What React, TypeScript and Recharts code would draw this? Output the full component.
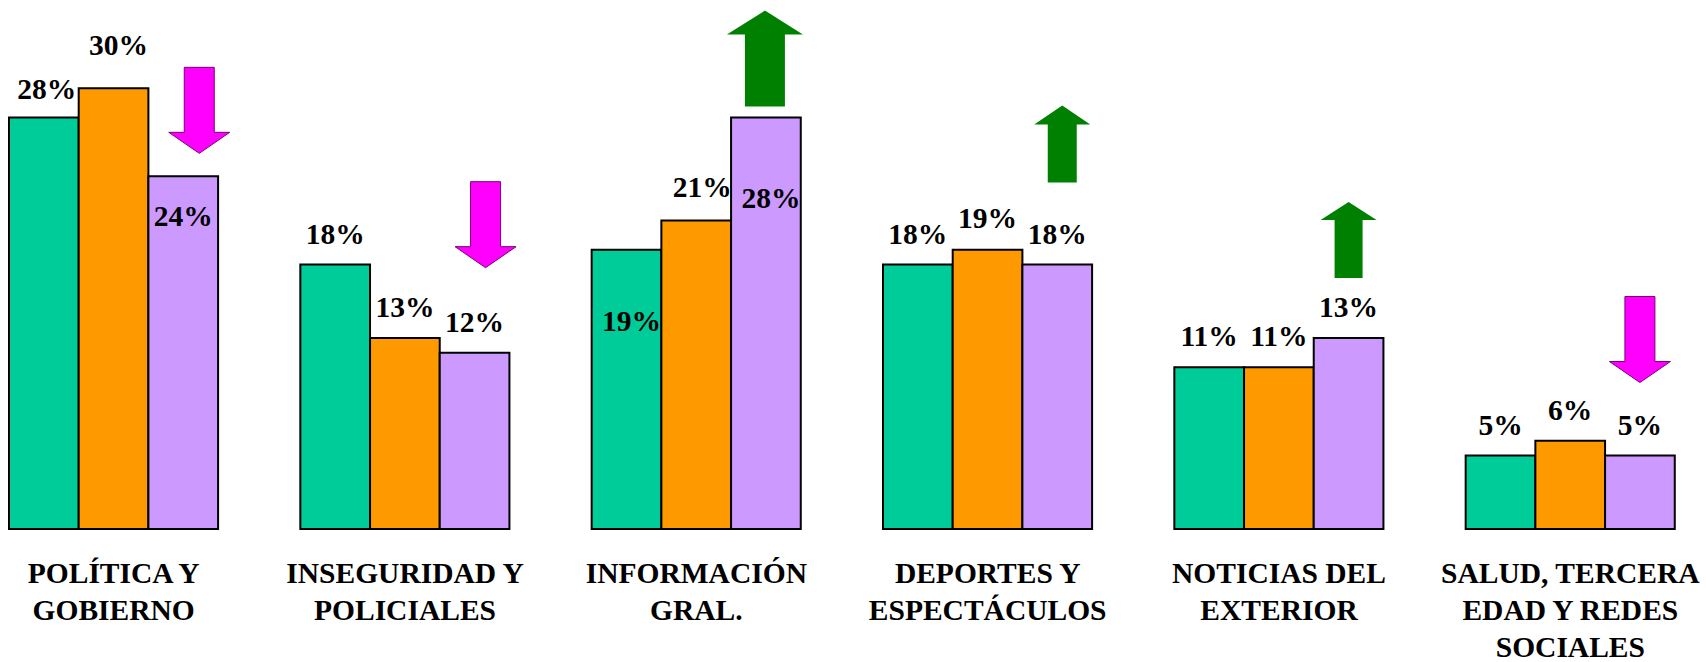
import { BarChart, Bar, XAxis, YAxis, LabelList } from 'recharts';

// categorías (una línea por elemento del array interno)
const categories = [
  ['POLÍTICA Y', 'GOBIERNO'],
  ['INSEGURIDAD Y', 'POLICIALES'],
  ['INFORMACIÓN', 'GRAL.'],
  ['DEPORTES Y', 'ESPECTÁCULOS'],
  ['NOTICIAS DEL', 'EXTERIOR'],
  ['SALUD, TERCERA', 'EDAD Y REDES', 'SOCIALES'],
];

const periodo1 = [28, 18, 19, 18, 11, 5];
const periodo2 = [30, 13, 21, 19, 11, 6];
const periodo3 = [24, 12, 28, 18, 13, 5];
const tendencia = ['down', 'down', 'up', 'up', 'up', 'down'];

const data = categories.map((lines, i) => ({
  categoria: lines.join('\n'),
  p1: periodo1[i],
  p2: periodo2[i],
  p3: periodo3[i],
  tendencia: tendencia[i],
}));

const FONT = '"Liberation Serif", "Times New Roman", serif';
const FONT_SIZE = 29.5;

// desplazamientos de las etiquetas de valor [dx, dy desde el tope de la barra]
const LABEL_SHIFT: Record<string, Record<number, [number, number]>> = {
  p1: { 0: [3, -19], 2: [5, 81] },
  p2: { 0: [5, -33], 2: [6, -23], 3: [0, -22] },
  p3: { 0: [0, 50], 2: [5, 90] },
};

// flechas sobre la tercera barra
const ARROW_STYLE = [
  { dx: 16, gap: 23, len: 86, head: 61, shaft: 30, headH: 21 },
  { dx: 11, gap: 85, len: 86, head: 61, shaft: 30, headH: 21 },
  { dx: -1, gap: 11, len: 96, head: 76, shaft: 40, headH: 24 },
  { dx: 5, gap: 82, len: 77, head: 56, shaft: 29, headH: 19 },
  { dx: 0, gap: 60, len: 76, head: 56, shaft: 28, headH: 18 },
  { dx: 0, gap: 73, len: 86, head: 61, shaft: 30, headH: 21 },
];

function valueLabel(key: string) {
  return (props: any) => {
    const { x, y, width, value, index } = props;
    const [dx, dy] = LABEL_SHIFT[key][index] ?? [0, -21];
    return (
      <text
        x={x + width / 2 + dx}
        y={y + dy}
        textAnchor="middle"
        fontFamily={FONT}
        fontWeight="bold"
        fontSize={FONT_SIZE}
        fill="#000"
      >
        {`${value}%`}
      </text>
    );
  };
}

function TrendArrow(props: any) {
  const { x, y, width, index } = props;
  const s = ARROW_STYLE[index];
  const cx = x + width / 2 + s.dx;
  const hs = s.shaft / 2;
  const hh = s.head / 2;
  if (tendencia[index] === 'down') {
    const tip = y - s.gap;
    const top = tip - s.len;
    const base = tip - s.headH;
    const pts = [
      [cx - hs, top], [cx + hs, top], [cx + hs, base], [cx + hh, base],
      [cx, tip], [cx - hh, base], [cx - hs, base],
    ];
    return <polygon points={pts.map((p) => p.join(',')).join(' ')} fill="#FF00FF" stroke="#7a007a" strokeWidth={1} />;
  }
  const bottom = y - s.gap;
  const tip = bottom - s.len;
  const base = tip + s.headH;
  const pts = [
    [cx, tip], [cx + hh, base], [cx + hs, base], [cx + hs, bottom],
    [cx - hs, bottom], [cx - hs, base], [cx - hh, base],
  ];
  return <polygon points={pts.map((p) => p.join(',')).join(' ')} fill="#008000" />;
}

function CategoryTick(props: any) {
  const { x, y, payload } = props;
  const lines = String(payload.value).split('\n');
  return (
    <text x={x} y={y} textAnchor="middle" fontFamily={FONT} fontWeight="bold" fontSize={FONT_SIZE} fill="#000">
      {lines.map((line, i) => (
        <tspan key={line} x={x} dy={i === 0 ? 54 : 37}>
          {line}
        </tspan>
      ))}
    </text>
  );
}

export default function App() {
  return (
    <div
      style={{
        position: 'fixed',
        left: 0,
        top: 0,
        width: 1706,
        height: 662,
        overflow: 'hidden',
        background: '#fff',
      }}
    >
      <div style={{ position: 'absolute', left: -32, top: 0 }}>
        <BarChart
          width={1748}
          height={662}
          data={data}
          margin={{ top: 0, right: 0, bottom: 0, left: 0 }}
          barSize={69.7}
          barGap={0}
        >
          <XAxis
            dataKey="categoria"
            height={133}
            axisLine={false}
            tickLine={false}
            tickSize={0}
            tickMargin={0}
            interval={0}
            tick={<CategoryTick />}
          />
          <YAxis hide domain={[0, 36]} />
          <Bar dataKey="p1" fill="#00CC99" stroke="#000" strokeWidth={2} isAnimationActive={false}>
            <LabelList dataKey="p1" content={valueLabel('p1')} />
          </Bar>
          <Bar dataKey="p2" fill="#FF9900" stroke="#000" strokeWidth={2} isAnimationActive={false}>
            <LabelList dataKey="p2" content={valueLabel('p2')} />
          </Bar>
          <Bar dataKey="p3" fill="#CC99FF" stroke="#000" strokeWidth={2} isAnimationActive={false}>
            <LabelList dataKey="p3" content={valueLabel('p3')} />
            <LabelList dataKey="p3" content={TrendArrow} />
          </Bar>
        </BarChart>
      </div>
    </div>
  );
}
